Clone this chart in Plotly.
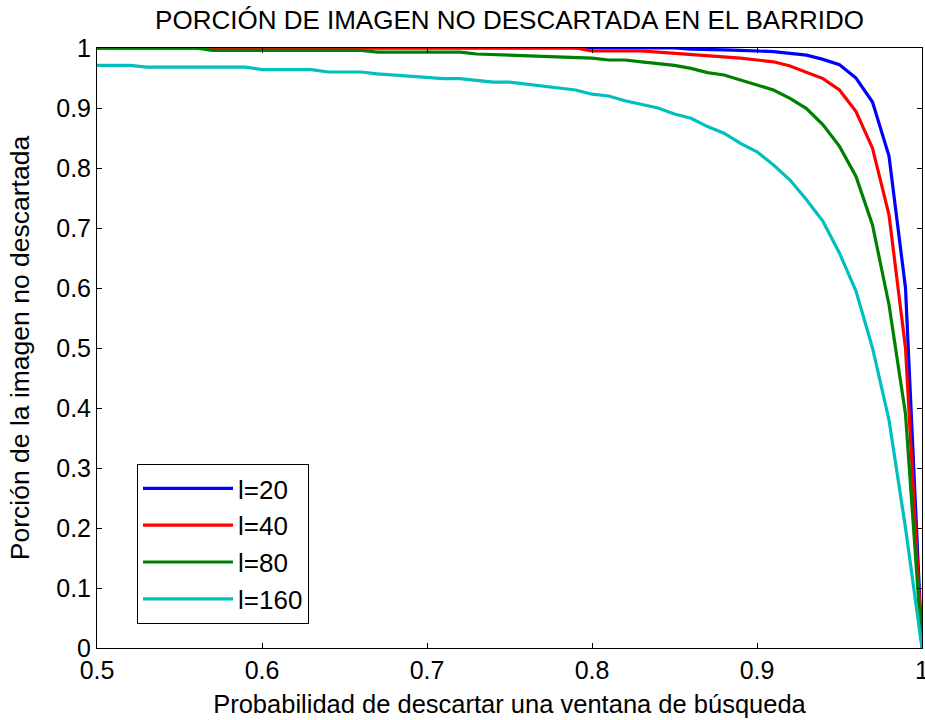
import plotly.graph_objects as go

p = [round(0.50 + 0.01 * i, 2) for i in range(51)]

l20 = [1.0] * 36 + [0.998, 0.998, 0.997, 0.996, 0.995, 0.994, 0.991, 0.988, 0.981, 0.972,
                    0.950, 0.910, 0.820, 0.600, 0.0]
l40 = [1.0] * 30 + [0.995, 0.995, 0.995, 0.995, 0.993, 0.991, 0.990, 0.988, 0.986, 0.983,
                    0.980, 0.977, 0.970, 0.960, 0.949, 0.930, 0.894, 0.833, 0.722, 0.500, 0.0]
l80 = ([1.0] * 7 + [0.996] * 10 + [0.993] * 6 +
       [0.990, 0.989, 0.988, 0.986, 0.986, 0.985, 0.983, 0.983, 0.980, 0.980,
        0.977, 0.974, 0.971, 0.966, 0.959, 0.955, 0.947, 0.938, 0.930, 0.916,
        0.899, 0.872, 0.836, 0.786, 0.705, 0.572, 0.390, 0.0])
l160 = [0.971, 0.971, 0.971, 0.968, 0.968, 0.968, 0.968, 0.968, 0.968, 0.968,
        0.964, 0.964, 0.964, 0.964, 0.960, 0.960, 0.960, 0.957, 0.955, 0.953,
        0.952, 0.949, 0.949, 0.946, 0.943, 0.943, 0.940, 0.937, 0.934, 0.930,
        0.923, 0.920, 0.912, 0.906, 0.900, 0.890, 0.883, 0.869, 0.858, 0.841,
        0.827, 0.805, 0.780, 0.747, 0.711, 0.658, 0.595, 0.500, 0.380, 0.200, 0.0]

names = ["l=20", "l=40", "l=80", "l=160"]
series = [l20, l40, l80, l160]
colors = ["#0000FF", "#FF0000", "#008000", "#00BFBF"]

xticks = [0.5, 0.6, 0.7, 0.8, 0.9, 1.0]
xticklabels = ["0.5", "0.6", "0.7", "0.8", "0.9", "1"]
yticks = [0, 0.1, 0.2, 0.3, 0.4, 0.5, 0.6, 0.7, 0.8, 0.9, 1.0]
yticklabels = ["0", "0.1", "0.2", "0.3", "0.4", "0.5", "0.6", "0.7", "0.8", "0.9", "1"]

FONT = "Liberation Sans, Arial, sans-serif"
FS = 25

W, H = 925, 720
ML, MT = 97, 48
PW, PH = 825, 600

fig = go.Figure()
for name, ys, c in zip(names, series, colors):
    fig.add_trace(go.Scatter(x=p, y=ys, mode="lines", name=name, legendgroup=name,
                             line=dict(color=c, width=3.2), cliponaxis=False))

axis_common = dict(showline=True, linecolor="black", linewidth=1, mirror="ticks",
                   ticks="inside", ticklen=5, tickcolor="black", showgrid=False,
                   zeroline=False, automargin=False, ticklabeloverflow="allow",
                   tickfont=dict(family=FONT, size=FS, color="black"))

fig.update_layout(
    width=W, height=H,
    margin=dict(l=ML, r=W - ML - PW, t=MT, b=H - MT - PH),
    paper_bgcolor="white", plot_bgcolor="white",
    font=dict(family=FONT, size=FS, color="black"),
    title=dict(text="PORCIÓN DE IMAGEN NO DESCARTADA EN EL BARRIDO", x=0.5, xref="paper",
               xanchor="center", y=1 - 20 / H, yref="container", yanchor="middle",
               font=dict(family=FONT, size=26, color="black")),
    xaxis=dict(range=[0.5, 1.0], tickvals=xticks, ticktext=xticklabels,
               title=dict(text="Probabilidad de descartar una ventana de búsqueda",
                          font=dict(family=FONT, size=25.5), standoff=12),
               **axis_common),
    yaxis=dict(range=[0, 1.0], tickvals=yticks, ticktext=yticklabels,
               title=dict(text="Porción de la imagen no descartada",
                          font=dict(family=FONT, size=26.5), standoff=18),
               **axis_common),
    showlegend=True,
    legend=dict(x=40 / PW, y=(648 - 464) / PH, xanchor="left", yanchor="top",
                bordercolor="black", borderwidth=1, bgcolor="white",
                font=dict(family=FONT, size=26, color="black"),
                tracegroupgap=0, itemwidth=90),
)

fig.write_html("out.html",
               config={"displayModeBar": False},
               post_script="document.body.style.margin='0';"
                           "document.body.style.overflow='hidden';")
